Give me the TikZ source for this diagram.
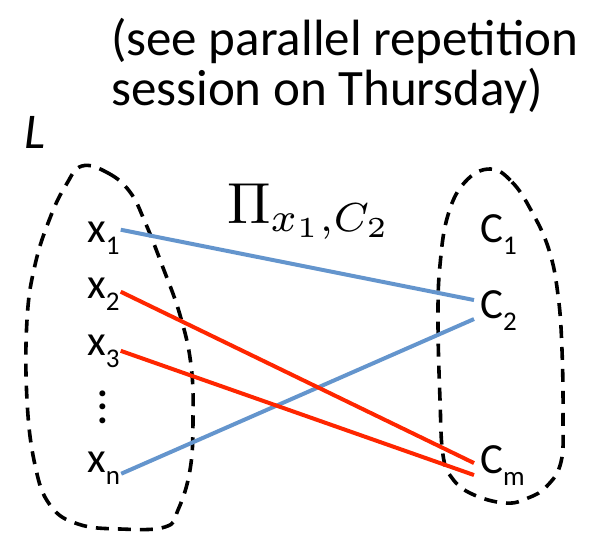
\documentclass[tikz,border=0pt]{standalone}
\usepackage{fontspec}
\setmainfont{Carlito}
\usetikzlibrary{positioning}
\definecolor{PiBlue}{RGB}{100,149,205}
\definecolor{PiRed}{RGB}{255,38,0}
\newcommand{\lowsub}[1]{\raisebox{-12pt}{\fontsize{27}{27}\selectfont #1}}

\begin{document}
\begin{tikzpicture}[x=1pt,y=-1pt,
    lbl/.style={font=\fontsize{43}{43}\selectfont, inner sep=0pt, anchor=base west},
    blob/.style={dash pattern=on 13pt off 9pt, line width=3.6pt},
    pair/.style={line width=4pt}]
    \useasboundingbox (0,0) rectangle (589,535);

    % Heading
    \node[font=\fontsize{51}{51}\selectfont, inner sep=0pt, anchor=base west, align=left] (note) at (111,106)
        {(see parallel repetition\\session on Thursday)};
    \node[font=\fontsize{50}{50}\itshape\selectfont, inner sep=0pt, anchor=base west] (lang) at (24,148) {L};

    % Sets
    \draw[blob] plot[smooth cycle, tension=0.7] coordinates {(82,166) (108,173) (130,192) (145,222) (162,265) (180,315)
        (191,365) (193,420) (190,470) (178,510) (165,527) (120,529) (78,524) (50,505) (35,465) (27,400) (27,320)
        (35,265) (50,218) (66,185)};
    \draw[blob] plot[smooth cycle, tension=0.7] coordinates {(490,169) (512,182) (532,212) (549,250) (558,295) (562,350)
        (563,420) (561,462) (547,486) (528,498) (505,503) (472,494) (452,478) (443,455) (440,400) (438,320)
        (440,265) (448,215) (465,182)};

    % Elements
    \node[lbl] (x1) at (87,242) {x\lowsub{1}};
    \node[lbl] (x2) at (87,298) {x\lowsub{2}};
    \node[lbl] (x3) at (87,355) {x\lowsub{3}};
    \node[lbl] (xn) at (87,472) {x\lowsub{n}};
    \node[font=\fontsize{40}{13.5}\bfseries\selectfont, inner sep=0pt, align=center] (vd) at (103,407) {.\\.\\.};

    \node[lbl] (c1) at (480,242) {C\lowsub{1}};
    \node[lbl] (c2) at (480,318) {C\lowsub{2}};
    \node[lbl] (cm) at (480,473) {C\lowsub{m}};

    \node[inner sep=0pt, anchor=base west] (proj) at (227,223) {\scalebox{5.8}{$\Pi_{x_1,C_2}$}};

    % Pairs
    \draw[pair, PiBlue] ([xshift=1pt,yshift=8pt]x1.east) -- ([xshift=-6pt,yshift=10pt]c2.west);
    \draw[pair, PiBlue] ([xshift=1pt,yshift=-6pt]xn.east) -- ([xshift=-6pt,yshift=-9pt]c2.west);
    \draw[pair, PiRed] ([xshift=1pt,yshift=2pt]x2.east) -- ([xshift=-6pt,yshift=2pt]cm.west);
    \draw[pair, PiRed] ([xshift=1pt,yshift=0pt]x3.east) -- ([xshift=-6pt,yshift=-10pt]cm.west);
\end{tikzpicture}
\end{document}
